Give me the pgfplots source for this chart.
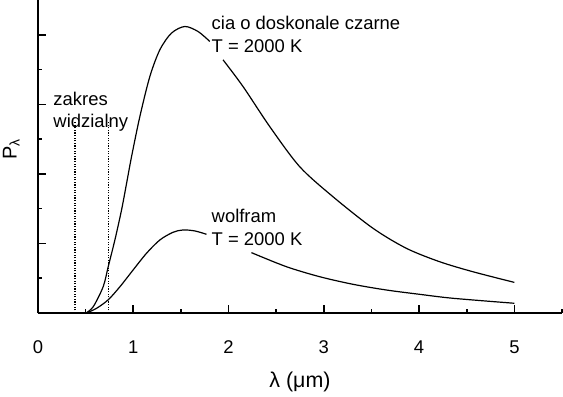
\documentclass[border=0pt]{standalone}
\usepackage{fontspec}
\setmainfont{Liberation Sans}
\usepackage{pgfplots}
\pgfplotsset{compat=1.18}
\begin{document}
\fontsize{18.5}{22}\selectfont
\begin{tikzpicture}[x=1bp,y=1bp]
\path[use as bounding box] (-38,-83) rectangle (525,313);
\begin{axis}[
  at={(0,0)}, anchor=south west,
  scale only axis, width=524bp, height=313bp,
  xmin=0, xmax=5.5, ymin=0, ymax=4.5,
  axis lines*=left,
  clip=false,
  axis line style={line width=2bp},
  every tick/.style={black, line width=1.6bp},
  tick align=inside,
  major tick length=8bp, minor tick length=4bp,
  xtick={0,1,2,3,4,5}, minor x tick num=1,
  extra x ticks={5.5}, extra x tick labels={},
  extra x tick style={major tick length=4bp},
  ytick={0,1,2,3,4}, minor y tick num=1, yticklabels={},
  /pgf/number format/assume math mode=true,
  tick label style={font=\fontsize{18.5}{22}\selectfont},
  xticklabel style={anchor=base, yshift=-40bp},
  xlabel={λ (μm)},
  xlabel style={at={(rel axis cs:0.5,-0.238)}, anchor=base, font=\fontsize{21.5}{25}\selectfont},
  ylabel={P\textsubscript{λ}},
  ylabel style={at={(rel axis cs:-0.041,0.524)}, anchor=base, font=\fontsize{20}{24}\selectfont},
  unbounded coords=jump,
]
% black body
\addplot[black, line width=1.2bp, smooth] coordinates {
(0.503,0) (0.580,0.091) (0.684,0.378) (0.737,0.666) (0.807,1.05) (0.877,1.482)
(0.930,1.866) (0.982,2.249) (1.069,2.824) (1.174,3.40) (1.279,3.784) (1.401,4.024)
(1.541,4.119) (1.680,4.047) (1.803,3.904) (1.87,nan) (1.942,3.640) (2.152,3.256)
(2.432,2.681) (2.746,2.105) (3.095,1.673) (3.515,1.219) (3.865,0.931) (4.214,0.738)
(4.563,0.594) (5.0,0.44)
};
% tungsten
\addplot[black, line width=1.2bp, smooth] coordinates {
(0.51,0) (0.615,0.068) (0.737,0.19) (0.860,0.378) (0.999,0.62) (1.139,0.859)
(1.279,1.050) (1.418,1.161) (1.523,1.194) (1.646,1.180) (1.768,1.132) (2.0,nan)
(2.240,0.868) (2.607,0.666) (2.956,0.522) (3.305,0.413) (3.655,0.331) (4.004,0.269)
(4.353,0.212) (5.0,0.14)
};
% visible range
\addplot[black, line width=1.4bp, dash pattern=on 1.3bp off 1.3bp] coordinates {(0.39,0) (0.39,2.75)};
\addplot[black, line width=1.4bp, dash pattern=on 1.3bp off 1.3bp] coordinates {(0.74,0) (0.74,2.75)};
\node[anchor=base west, inner sep=0pt] at (axis cs:1.821,4.072) {cia o doskonale czarne};
\node[anchor=base west, inner sep=0pt] at (axis cs:1.821,3.751) {T = 2000 K};
\node[anchor=base west, inner sep=0pt] at (axis cs:1.821,1.305) {wolfram};
\node[anchor=base west, inner sep=0pt] at (axis cs:1.821,0.964) {T = 2000 K};
\node[anchor=base west, inner sep=0pt] at (axis cs:0.160,2.978) {zakres};
\node[anchor=base west, inner sep=0pt] at (axis cs:0.160,2.662) {widzialny};
\end{axis}
\end{tikzpicture}
\end{document}
